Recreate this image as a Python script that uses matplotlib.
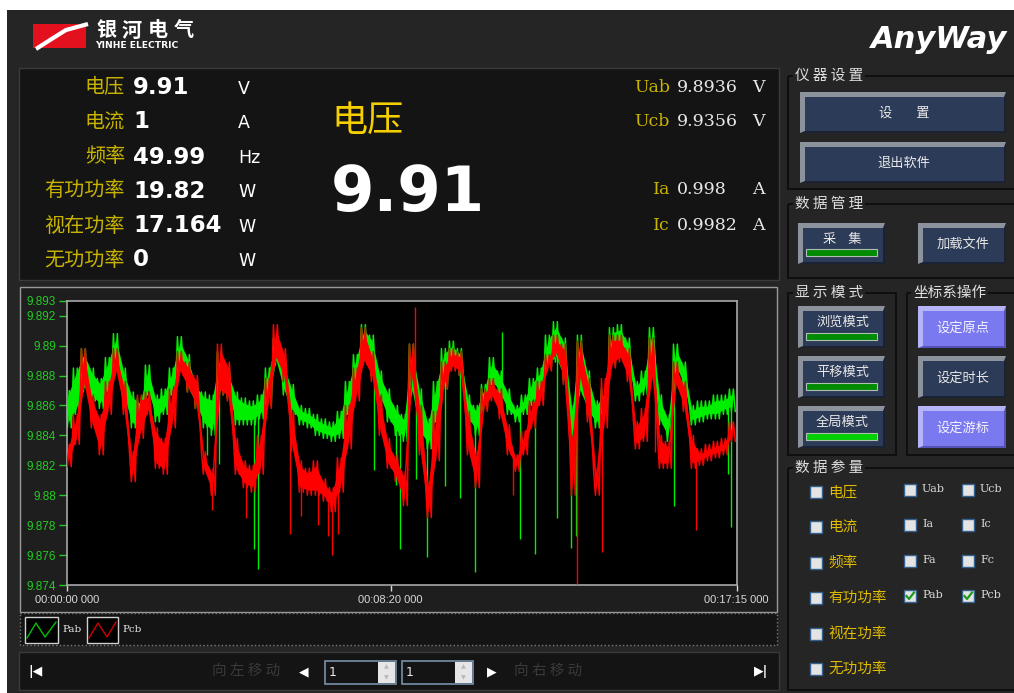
import numpy as np
import matplotlib
matplotlib.use('Agg')
import matplotlib.pyplot as plt
from matplotlib.patches import Rectangle, Polygon

CJK = ['Noto Sans CJK SC', 'DejaVu Sans']
plt.rcParams['font.family'] = CJK

# ---------------- data ----------------
sample_step = 12.37  # seconds between envelope samples
pab_upper = [9.8870, 9.8885, 9.8898, 9.8885, 9.8878, 9.8892, 9.8908, 9.8885, 9.8869, 9.8865,
             9.8887, 9.8867, 9.8871, 9.8885, 9.8906, 9.8894, 9.8876, 9.8869, 9.8867, 9.8896,
             9.8885, 9.8869, 9.8865, 9.8863, 9.8867, 9.8885, 9.8905, 9.8889, 9.8874, 9.8860,
             9.8858, 9.8854, 9.8851, 9.8849, 9.8856, 9.8876, 9.8894, 9.8914, 9.8907, 9.8883,
             9.8871, 9.8860, 9.8854, 9.8901, 9.8871, 9.8851, 9.8876, 9.8898, 9.8903, 9.8898,
             9.8867, 9.8860, 9.8874, 9.8892, 9.8883, 9.8871, 9.8860, 9.8867, 9.8878, 9.8885,
             9.8907, 9.8916, 9.8905, 9.8860, 9.8907, 9.8883, 9.8863, 9.8871, 9.8912, 9.8914,
             9.8905, 9.8876, 9.8883, 9.8912, 9.8867, 9.8854, 9.8901, 9.8889, 9.8860, 9.8863,
             9.8863, 9.8867, 9.8867, 9.8871]
pab_lower = [9.8845, 9.8854, 9.8869, 9.8863, 9.8858, 9.8869, 9.8883, 9.8863, 9.8845, 9.8844,
             9.8867, 9.8849, 9.8854, 9.8867, 9.8885, 9.8869, 9.8858, 9.8845, 9.8840, 9.8867,
             9.8865, 9.8847, 9.8847, 9.8847, 9.8851, 9.8860, 9.8887, 9.8867, 9.8854, 9.8847,
             9.8845, 9.8840, 9.8838, 9.8836, 9.8838, 9.8854, 9.8876, 9.8889, 9.8880, 9.8863,
             9.8849, 9.8840, 9.8836, 9.8867, 9.8840, 9.8831, 9.8849, 9.8871, 9.8885, 9.8880,
             9.8849, 9.8840, 9.8858, 9.8874, 9.8865, 9.8854, 9.8849, 9.8854, 9.8860, 9.8867,
             9.8885, 9.8889, 9.8876, 9.8836, 9.8867, 9.8854, 9.8845, 9.8854, 9.8887, 9.8892,
             9.8883, 9.8863, 9.8867, 9.8889, 9.8847, 9.8836, 9.8883, 9.8871, 9.8847, 9.8849,
             9.8851, 9.8851, 9.8854, 9.8856]
pcb_upper = [9.8834, 9.8854, 9.8898, 9.8867, 9.8854, 9.8876, 9.8898, 9.8876, 9.8829, 9.8867,
             9.8869, 9.8845, 9.8838, 9.8871, 9.8896, 9.8889, 9.8880, 9.8829, 9.8818, 9.8901,
             9.8889, 9.8838, 9.8823, 9.8820, 9.8840, 9.8878, 9.8914, 9.8898, 9.8856, 9.8823,
             9.8818, 9.8823, 9.8811, 9.8805, 9.8825, 9.8860, 9.8885, 9.8912, 9.8896, 9.8867,
             9.8838, 9.8827, 9.8816, 9.8901, 9.8860, 9.8809, 9.8856, 9.8889, 9.8898, 9.8896,
             9.8856, 9.8829, 9.8871, 9.8878, 9.8871, 9.8847, 9.8827, 9.8843, 9.8863, 9.8876,
             9.8894, 9.8907, 9.8901, 9.8840, 9.8903, 9.8878, 9.8818, 9.8878, 9.8907, 9.8907,
             9.8898, 9.8849, 9.8858, 9.8905, 9.8840, 9.8836, 9.8889, 9.8876, 9.8840, 9.8831,
             9.8834, 9.8836, 9.8838, 9.8849]
pcb_lower = [9.8819, 9.8834, 9.8871, 9.8845, 9.8827, 9.8854, 9.8880, 9.8854, 9.8809, 9.8838,
             9.8854, 9.8818, 9.8814, 9.8845, 9.8880, 9.8869, 9.8858, 9.8814, 9.8800, 9.8867,
             9.8863, 9.8814, 9.8805, 9.8802, 9.8814, 9.8858, 9.8889, 9.8876, 9.8829, 9.8802,
             9.8800, 9.8800, 9.8796, 9.8789, 9.8802, 9.8831, 9.8863, 9.8887, 9.8876, 9.8840,
             9.8818, 9.8809, 9.8793, 9.8876, 9.8827, 9.8785, 9.8823, 9.8871, 9.8883, 9.8880,
             9.8827, 9.8805, 9.8856, 9.8863, 9.8851, 9.8827, 9.8816, 9.8827, 9.8845, 9.8860,
             9.8883, 9.8892, 9.8874, 9.8800, 9.8876, 9.8849, 9.8800, 9.8845, 9.8885, 9.8889,
             9.8876, 9.8831, 9.8836, 9.8876, 9.8818, 9.8818, 9.8871, 9.8856, 9.8818, 9.8820,
             9.8823, 9.8825, 9.8827, 9.8836]
pab_spike_t = [216, 235, 289, 295, 474, 508, 514, 539, 556, 584, 607, 630, 672, 700, 723, 757, 779, 786, 938, 1021, 1026]
pab_spike_v = [9.8827, 9.8821, 9.8764, 9.8751, 9.8817, 9.8807, 9.8764, 9.8811, 9.8759, 9.8806, 9.8798,
               9.8749, 9.8909, 9.8771, 9.8761, 9.8785, 9.8765, 9.8773, 9.8793, 9.8814, 9.8779]
pcb_spike_t = [224, 276, 344, 361, 388, 403, 409, 419, 538, 689, 788, 827, 909, 972]
pcb_spike_v = [9.8790, 9.8785, 9.8774, 9.8786, 9.8780, 9.8773, 9.8760, 9.8774, 9.8926, 9.8800,
               9.8741, 9.8762, 9.8829, 9.8777]

y_ticks = [9.874, 9.876, 9.878, 9.88, 9.882, 9.884, 9.886, 9.888, 9.89, 9.892, 9.893]
y_ticklabels = ['9.874', '9.876', '9.878', '9.88', '9.882', '9.884', '9.886', '9.888', '9.89', '9.892', '9.893']
x_ticks = [0, 500, 1035]
x_ticklabels = ['00:00:00 000', '00:08:20 000', '00:17:15 000']

main_labels = ['电压', '电流', '频率', '有功功率', '视在功率', '无功功率']
main_values = ['9.91', '1', '49.99', '19.82', '17.164', '0']
main_units = ['V', 'A', 'Hz', 'W', 'W', 'W']
phase_labels = ['Uab', 'Ucb', 'Ia', 'Ic']
phase_values = ['9.8936', '9.9356', '0.998', '0.9982']
phase_units = ['V', 'V', 'A', 'A']
big_label = '电压'
big_value = '9.91'
param_left = ['电压', '电流', '频率', '有功功率', '视在功率', '无功功率']
param_mid = ['Uab', 'Ia', 'Fa', 'Pab']
param_right = ['Ucb', 'Ic', 'Fc', 'Pcb']
param_checked = ['Pab', 'Pcb']

# ---------------- figure ----------------
W, H = 1014, 693
fig = plt.figure(figsize=(W / 100, H / 100), dpi=100, facecolor='white')
bg = fig.add_axes([0, 0, 1, 1])
bg.set_xlim(0, W)
bg.set_ylim(H, 0)
bg.axis('off')

WIN = '#252525'
PANEL = '#141414'


def rect(x0, y0, x1, y1, fc, ec='none', lw=1.0, ls='-', z=1):
    bg.add_patch(Rectangle((x0, y0), x1 - x0, y1 - y0, facecolor=fc, edgecolor=ec, lw=lw, ls=ls, zorder=z))


def txt(x, y, s, **kw):
    kw.setdefault('va', 'center')
    kw.setdefault('zorder', 5)
    bg.text(x, y, s, **kw)


rect(7, 10, W, H, WIN, z=0)

# header logo
bg.add_patch(Polygon([(33, 24), (86, 24), (86, 48), (33, 48)], facecolor='#e3101d', edgecolor='none', zorder=2))
cx = np.array([36, 50, 66, 88])
cy = np.array([49, 40, 30, 24])
bg.plot(cx, cy, color='white', lw=3, zorder=3, solid_capstyle='butt')
bg.add_patch(Polygon([(33, 48), (36, 49), (33, 52)], facecolor=WIN, edgecolor='none', zorder=3))
for i, ch in enumerate('银河电气'):
    txt(106 + 26 * i, 30, ch, color='white', fontsize=14.5, fontweight='bold', ha='center')
txt(95, 46, 'YINHE ELECTRIC', color='white', fontsize=6.6, fontweight='bold', ha='left',
    family=['DejaVu Sans'])
txt(939, 39, 'AnyWay', color='white', fontsize=22, fontweight='bold', style='italic', ha='center',
    family=['DejaVu Sans'])

# top info panel
rect(19, 68, 779, 280, PANEL, ec='#3a3a3a')
rows_y = [88, 122, 157, 191, 226, 260]
for y, lab, val, unit in zip(rows_y, main_labels, main_values, main_units):
    txt(125, y, lab, color='#c8b400', fontsize=14.5, ha='right')
    txt(133, y, val, color='white', fontsize=16.5, fontweight='bold', ha='left', family=['DejaVu Sans'])
    txt(238, y + 1, unit, color='white', fontsize=12.5, ha='left', family=['DejaVu Sans'])
txt(368, 121, big_label, color='#f5d000', fontsize=26, ha='center')
txt(408, 194, big_value, color='white', fontsize=45, fontweight='bold', ha='center', family=['DejaVu Sans'])
for y, lab, val, unit in zip([88, 122, 190, 225], phase_labels, phase_values, phase_units):
    txt(670, y, lab, color='#c8b400', fontsize=12.5, ha='right', family=['DejaVu Serif'])
    txt(677, y, val, color='#e8e8e8', fontsize=12.5, ha='left', family=['DejaVu Serif'])
    txt(758, y, unit, color='#e8e8e8', fontsize=12.5, ha='center', family=['DejaVu Serif'])

# chart panel
rect(20, 287, 777, 612, '#1e1e1e', ec='#9a9a9a')
rect(20, 613, 777, 645, '#141414', ec='#7a7a7a', ls=':')
# legend
rect(25, 617, 58, 643, 'black', ec='#d0d0d0')
bg.plot([27, 36, 45, 56], [638, 623, 637, 622], color='#00c000', lw=1, zorder=3)
txt(62, 629, 'Pab', color='#e8e8e8', fontsize=7.5, ha='left', family=['DejaVu Serif'])
rect(87, 617, 118, 643, 'black', ec='#d0d0d0')
bg.plot([89, 98, 107, 116], [638, 623, 637, 622], color='#d00000', lw=1, zorder=3)
txt(122, 629, 'Pcb', color='#e8e8e8', fontsize=7.5, ha='left', family=['DejaVu Serif'])

# nav bar
rect(19, 652, 779, 690, PANEL, ec='#3a3a3a')
txt(35, 672, '|◀', color='white', fontsize=9, ha='center', family=['DejaVu Sans'], fontweight='bold')
txt(246, 671, '向 左 移 动', color='#3a3a3a', fontsize=10.5, ha='center')
txt(304, 672, '◀', color='white', fontsize=9, ha='center', family=['DejaVu Sans'])
for x0 in (325, 402):
    rect(x0, 661, x0 + 71, 684, '#141414', ec='#7890aa', lw=1.2)
    rect(x0 + 53, 662, x0 + 70, 683, '#e6e6e6')
    txt(x0 + 61.5, 667, '▲', color='#b8b8b8', fontsize=4.5, ha='center', family=['DejaVu Sans'])
    txt(x0 + 61.5, 678, '▼', color='#b8b8b8', fontsize=4.5, ha='center', family=['DejaVu Sans'])
    txt(x0 + 4, 672, '1', color='#e8e8e8', fontsize=9, ha='left', family=['DejaVu Sans'])
txt(492, 672, '▶', color='white', fontsize=9, ha='center', family=['DejaVu Sans'])
txt(548, 671, '向 右 移 动', color='#3a3a3a', fontsize=10.5, ha='center')
txt(761, 672, '▶|', color='white', fontsize=9, ha='center', family=['DejaVu Sans'], fontweight='bold')


# right panel
def group(x0, y0, x1, y1, title, tx):
    rect(x0, y0, x1, y1, 'none', ec='#0d0d0d', lw=1.3, z=2)
    bg.text(tx, y0, title, color='#e0e0e0', fontsize=10.5, va='center', ha='left', zorder=5,
            bbox=dict(facecolor=WIN, edgecolor='none', pad=1.5))


def button(x0, y0, x1, y1, label, face='#2c3b57', light='#8d939c', dark='#1a2233',
           bar=None, tcolor='#e8e8e8'):
    rect(x0, y0, x1, y1, light, z=2)
    bg.add_patch(Polygon([(x1, y0), (x1, y1), (x0, y1), (x0 + 5, y1 - 2), (x1 - 2, y1 - 2), (x1 - 2, y0 + 5)],
                         facecolor=dark, edgecolor='none', zorder=3))
    rect(x0 + 5, y0 + 5, x1 - 2, y1 - 2, face, z=3)
    if bar is None:
        txt((x0 + x1) / 2 + 1, (y0 + y1) / 2 + 1, label, color=tcolor, fontsize=9.5, ha='center')
    else:
        txt((x0 + x1) / 2 + 1, y0 + 16, label, color=tcolor, fontsize=9.5, ha='center')
        rect(x0 + 8, y1 - 15, x1 - 8, y1 - 8, bar, ec='#b0c0b0', lw=0.8, z=4)


group(788, 76, 1020, 189, '仪 器 设 置', 795)
button(800, 92, 1006, 133, '设        置')
button(800, 142, 1006, 183, '退出软件')
group(788, 204, 1020, 278, '数 据 管 理', 795)
button(798, 223, 885, 264, '采    集', bar='#008a00')
button(918, 223, 1006, 264, '加载文件')
group(788, 293, 896, 455, '显 示 模 式', 795)
button(798, 306, 885, 348, '浏览模式', bar='#008a00')
button(798, 356, 885, 398, '平移模式', bar='#008a00')
button(798, 406, 885, 448, '全局模式', bar='#00d000')
group(907, 293, 1020, 455, '坐标系操作', 913)
PF, PL, PD = '#7b79ef', '#b6b4f9', '#5553b8'
button(918, 306, 1006, 348, '设定原点', face=PF, light=PL, dark=PD, tcolor='#f4f4ff')
button(918, 356, 1006, 398, '设定时长')
button(918, 406, 1006, 448, '设定游标', face=PF, light=PL, dark=PD, tcolor='#f4f4ff')
group(788, 468, 1020, 690, '数 据 参 量', 795)


def checkbox(x, y, checked=False):
    rect(x, y - 6, x + 12, y + 6, '#e4e4e4', ec='#35618e', lw=1.0, z=4)
    if checked:
        bg.plot([x + 2.5, x + 5, x + 10], [y, y + 3, y - 3.5], color='#1f9a1f', lw=1.6, zorder=5)


for y, lab in zip([492, 527, 563, 598, 634, 669], param_left):
    checkbox(810, y)
    txt(828, y, lab, color='#e0bc00', fontsize=10.5, ha='left')
for y, lm, lr in zip([490, 525, 561, 596], param_mid, param_right):
    checkbox(904, y, lm in param_checked)
    txt(922, y - 1, lm, color='#d8d8d8', fontsize=8, ha='left', family=['DejaVu Serif'])
    checkbox(962, y, lr in param_checked)
    txt(980, y - 1, lr, color='#d8d8d8', fontsize=8, ha='left', family=['DejaVu Serif'])

# ---------------- chart ----------------
L, R, T, B = 67.3, 736.7, 300.7, 585.0
ax = fig.add_axes([L / W, (H - B) / H, (R - L) / W, (B - T) / H])
ax.set_facecolor('black')
ax.set_xlim(0, 1035)
ax.set_ylim(9.874, 9.893)

t = 1.1 + sample_step * np.arange(len(pab_upper))


def draw_series(upper, lower, st, sv, color, z):
    upper = np.asarray(upper)
    lower = np.asarray(lower)
    inner_hi = upper - 0.00035
    inner_lo = lower + 0.00035
    ax.fill_between(t, inner_lo, inner_hi, where=inner_hi > inner_lo, interpolate=True,
                    color=color, lw=0, zorder=z)
    xs = np.column_stack([t - 4.0, t - 1.0, t + 2.0, t + 5.0]).ravel()
    ys = np.column_stack([upper, lower, upper, lower]).ravel()
    ax.plot(xs, ys, color=color, lw=1.1, zorder=z)
    mid = (upper + lower) / 2
    base = np.interp(st, t, mid)
    ax.vlines(st, base, sv, color=color, lw=1.0, zorder=z)


draw_series(pab_upper, pab_lower, pab_spike_t, pab_spike_v, '#00ee00', 2)
draw_series(pcb_upper, pcb_lower, pcb_spike_t, pcb_spike_v, '#ff0000', 3)

ax.set_yticks(y_ticks)
ax.set_yticklabels(y_ticklabels, family=['Liberation Sans', 'DejaVu Sans'], fontsize=8.5)
ax.set_xticks(x_ticks)
ax.set_xticklabels(x_ticklabels, family=['Liberation Sans', 'DejaVu Sans'], fontsize=8)
ax.tick_params(axis='y', colors='#22cc22', length=6, width=1, direction='out', pad=2)
ax.tick_params(axis='y', labelcolor='#22cc22')
ax.tick_params(axis='x', colors='#d8d8d8', length=4, width=1, direction='out', pad=3)
for s in ax.spines.values():
    s.set_color('#a8a8a8')
    s.set_linewidth(1.2)

fig.savefig('out.png', dpi=100, facecolor='white')
